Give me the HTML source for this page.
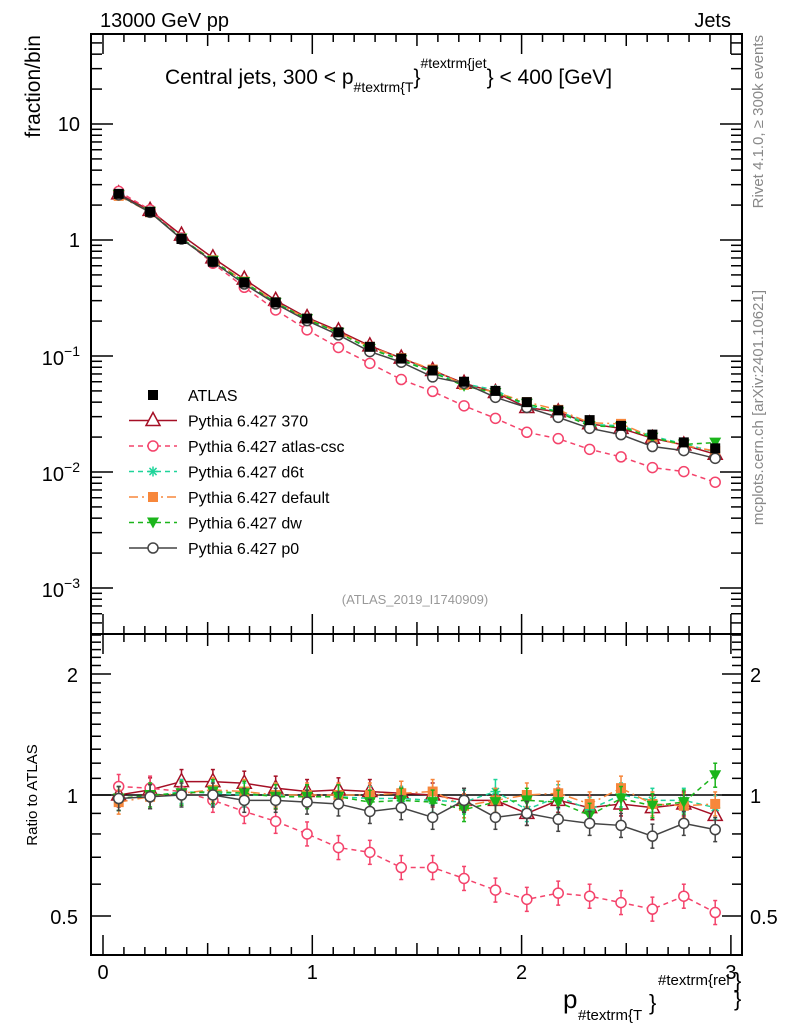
<!DOCTYPE html>
<html><head><meta charset="utf-8"><style>
body{margin:0;background:#fff;}
svg text{font-family:"Liberation Sans",sans-serif;}
</style></head><body>
<svg id="c" width="786" height="1024" xmlns="http://www.w3.org/2000/svg">
<g id="axes"></g><g id="marks"></g>
<text x="100" y="27" font-size="20">13000 GeV pp</text>
<text x="731" y="27" font-size="20" text-anchor="end">Jets</text>
<text x="165" y="84" font-size="21">Central jets, 300 &lt; p<tspan font-size="14" dy="8">#textrm{T</tspan><tspan dy="-8">}</tspan><tspan font-size="14" dy="-16">#textrm{jet</tspan><tspan dy="16">} &lt; 400 [GeV]</tspan></text>
<text transform="translate(40,35) rotate(-90)" font-size="21" text-anchor="end">fraction/bin</text>
<text transform="translate(37,795) rotate(-90)" font-size="15" text-anchor="middle">Ratio to ATLAS</text>
<text x="415" y="604" font-size="13" fill="#999" text-anchor="middle">(ATLAS_2019_I1740909)</text>
<text transform="translate(763,35) rotate(-90)" font-size="15" fill="#888" text-anchor="end">Rivet 4.1.0, ≥ 300k events</text>
<text transform="translate(763,290) rotate(-90)" font-size="15" fill="#888" text-anchor="end">mcplots.cern.ch [arXiv:2401.10621]</text>
<g>
<text x="563" y="1008" font-size="26">p</text>
<text x="578" y="1020" font-size="15">#textrm{T</text>
<text x="649" y="1010" font-size="22">}</text>
<text x="658" y="985" font-size="15">#textrm{rel</text>
<text x="734" y="988" font-size="22">}</text>
<text x="734" y="1006" font-size="22">}</text>
</g>
<g id="legend"></g>
</svg>
<script>
const xCenters=[0.075,0.225,0.375,0.525,0.675,0.825,0.975,1.125,1.275,1.425,1.575,1.725,1.875,2.025,2.175,2.325,2.475,2.625,2.775,2.925];
const atlasVals=[2.5,1.75,1.02,0.65,0.43,0.29,0.21,0.16,0.12,0.095,0.075,0.06,0.05,0.04,0.034,0.028,0.025,0.021,0.018,0.016];
const r370=[1.0,1.03,1.08,1.08,1.07,1.04,1.02,1.03,1.02,1.01,1.0,0.97,0.97,0.9,0.97,0.93,0.95,0.93,0.95,0.89];
const rCsc=[1.05,1.04,1.02,0.97,0.91,0.86,0.8,0.74,0.72,0.66,0.66,0.62,0.58,0.55,0.57,0.56,0.54,0.52,0.56,0.51];
const rD6t=[0.98,0.99,1.02,1.01,1.0,1.0,0.99,0.99,0.98,0.98,0.97,0.96,1.02,0.92,0.99,0.92,1.0,0.97,0.97,0.93];
const rDefault=[0.96,0.99,1.01,1.03,1.02,1.0,1.0,1.0,1.0,1.01,1.02,0.94,0.97,1.0,1.01,0.95,1.04,0.95,0.94,0.95];
const rDw=[0.98,1.0,1.01,1.02,1.01,0.99,0.99,0.99,0.96,0.97,0.96,0.92,0.96,0.97,0.96,0.89,0.98,0.94,0.96,1.12];
const rP0=[0.98,0.99,1.0,1.0,0.97,0.97,0.96,0.95,0.91,0.93,0.88,0.97,0.88,0.9,0.87,0.85,0.84,0.79,0.85,0.82];
const xTickLabels=["0","1","2","3"];
const yTickExps=["1","0","-1","-2","-3"];
const rTickLabels=["0.5","1","2"];

const NS="http://www.w3.org/2000/svg";
const L=91,R=742,T=34,M=634,B=955;
const X=v=>103+209.3*v;
const Y=v=>240-116*Math.log10(v);
const RY=v=>795-121*Math.log2(v);
function el(tag,attrs,parent){const e=document.createElementNS(NS,tag);for(const k in attrs)e.setAttribute(k,attrs[k]);parent.appendChild(e);return e;}
const ax=document.getElementById('axes'),mk=document.getElementById('marks'),lg=document.getElementById('legend');

let f1=el('rect',{x:L,y:T,width:R-L,height:M-T,fill:'none',stroke:'#000','stroke-width':2},ax);

let f2=el('rect',{x:L,y:M,width:R-L,height:B-M,fill:'none',stroke:'#000','stroke-width':2},ax);

for(let i=0;i<=30;i++){const v=i/10,x=X(v);if(x>R)break;const len=i%10==0?20:(i%5==0?12:8);
 for(const [a,b] of [[T,T+len],[M-len,M],[M,M+len],[B-len,B]]) el('line',{x1:x,x2:x,y1:a,y2:b,stroke:'#000','stroke-width':1.5},ax);}
xTickLabels.forEach((t,i)=>{const e=el('text',{x:X(i),y:979,'font-size':20,'text-anchor':'middle'},ax);e.textContent=t;
 });
for(let d=-4;d<=1;d++)for(let m=1;m<10;m++){const v=m*Math.pow(10,d),y=Y(v);if(y<T||y>M)continue;const len=m==1?22:11;
 el('line',{x1:L,x2:L+len,y1:y,y2:y,stroke:'#000','stroke-width':1.5},ax);el('line',{x1:R-len,x2:R,y1:y,y2:y,stroke:'#000','stroke-width':1.5},ax);}
yTickExps.forEach(ex=>{const n=parseInt(ex);const y=Y(Math.pow(10,n));
 const e=el('text',{'font-size':20,'text-anchor':'end'},ax);
 
 if(n===1){e.setAttribute('x',80);e.setAttribute('y',y+7);e.textContent='10';}
 else if(n===0){e.setAttribute('x',80);e.setAttribute('y',y+7);e.textContent='1';}
 else{e.setAttribute('x',80);e.setAttribute('y',y+9);
  const a=el('tspan',{},e);a.textContent='10';
  const b=el('tspan',{'font-size':14,dy:-9},e);b.textContent='−'+(-n);}
});
[0.4,0.5,0.6,0.7,0.8,0.9,1,1.1,1.2,1.3,1.4,1.5,1.6,1.7,1.8,1.9,2,2.1,2.2,2.3,2.4,2.5].forEach(v=>{const y=RY(v);if(y<M||y>B)return;
 const big=[0.5,1,2].includes(v);const len=big?20:10;
 el('line',{x1:L,x2:L+len,y1:y,y2:y,stroke:'#000','stroke-width':1.5},ax);el('line',{x1:R-len,x2:R,y1:y,y2:y,stroke:'#000','stroke-width':1.5},ax);});
rTickLabels.forEach(t=>{const v=parseFloat(t);
 const e=el('text',{x:78,y:RY(v)+8,'font-size':20,'text-anchor':'end'},ax);e.textContent=t;
 const e2=el('text',{x:750,y:RY(v)+8,'font-size':20},ax);e2.textContent=t;});
const ref=el('line',{x1:L,x2:R,y1:RY(1),y2:RY(1),stroke:'#000','stroke-width':1.5},ax);


function marker(g,type,color,x,y){
 if(type=='sq')el('rect',{x:x-5,y:y-5,width:10,height:10,fill:color},g);
 else if(type=='tri')el('path',{d:`M${x},${y-8}L${x+7},${y+5}L${x-7},${y+5}Z`,fill:'#fff',stroke:color,'stroke-width':1.5},g);
 else if(type=='circ')el('circle',{cx:x,cy:y,r:5,fill:'#fff',stroke:color,'stroke-width':1.5},g);
 else if(type=='star'){for(let a=0;a<4;a++){const t=a*Math.PI/4;el('line',{x1:x-5*Math.cos(t),y1:y-5*Math.sin(t),x2:x+5*Math.cos(t),y2:y+5*Math.sin(t),stroke:color,'stroke-width':1.5},g);}}
 else if(type=='fsq')el('rect',{x:x-5,y:y-5,width:10,height:10,fill:color},g);
 else if(type=='dtri')el('path',{d:`M${x-6},${y-5}L${x+6},${y-5}L${x},${y+6}Z`,fill:color},g);
}
const series=[
 {name:'Pythia 6.427 370',r:r370,c:'#a50f25',m:'tri',dash:''},
 {name:'Pythia 6.427 atlas-csc',r:rCsc,c:'#f4436b',m:'circ',dash:'5,4'},
 {name:'Pythia 6.427 d6t',r:rD6t,c:'#1fd49a',m:'star',dash:'5,4'},
 {name:'Pythia 6.427 default',r:rDefault,c:'#f7873b',m:'fsq',dash:'9,4,2,4'},
 {name:'Pythia 6.427 dw',r:rDw,c:'#1bb51b',m:'dtri',dash:'5,4'},
 {name:'Pythia 6.427 p0',r:rP0,c:'#444',m:'circ',dash:''}];
series.forEach((s,si)=>{
 const g=el('g',{},mk);
 const mp=xCenters.map((x,i)=>[X(x),Y(atlasVals[i]*s.r[i])]);
 const rp=xCenters.map((x,i)=>[X(x),RY(s.r[i])]);
 [mp,rp].forEach((pts,k)=>{
  el('polyline',{points:pts.map(p=>p.join(',')).join(' '),fill:'none',stroke:s.c,'stroke-width':1.5,'stroke-dasharray':s.dash},g);
  pts.forEach(p=>{ if(k==1){el('line',{x1:p[0],x2:p[0],y1:p[1]-12,y2:p[1]+12,stroke:s.c,'stroke-width':1.5},g);
    el('line',{x1:p[0]-2,x2:p[0]+2,y1:p[1]-12,y2:p[1]-12,stroke:s.c,'stroke-width':1.5},g);
    el('line',{x1:p[0]-2,x2:p[0]+2,y1:p[1]+12,y2:p[1]+12,stroke:s.c,'stroke-width':1.5},g);}
   marker(g,s.m,s.c,p[0],p[1]);});
 });
});
const ga=el('g',{},mk);
xCenters.forEach((x,i)=>marker(ga,'sq','#000',X(x),Y(atlasVals[i])));
const rows=[{name:'ATLAS',c:'#000',m:'sq',dash:null}].concat(series);
rows.forEach((s,i)=>{const y=395+25.5*i;const g=el('g',{},lg);
 
 if(s.dash!==null)el('line',{x1:129,x2:177,y1:y,y2:y,stroke:s.c,'stroke-width':1.5,'stroke-dasharray':s.dash},g);
 marker(g,s.m,s.c,153,y);
 const t=el('text',{x:188,y:y+6,'font-size':16},g);t.textContent=s.name;});
</script>
</body></html>
